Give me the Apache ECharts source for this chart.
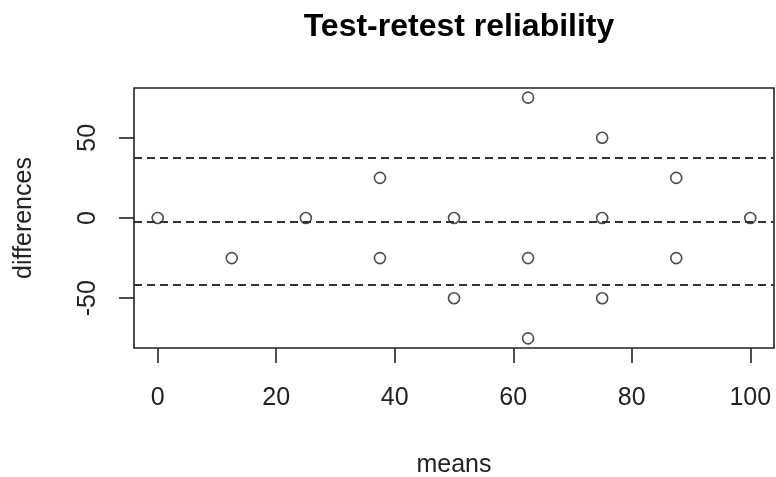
<!DOCTYPE html>
<html>
<head>
<meta charset="utf-8">
<script src="https://cdn.jsdelivr.net/npm/echarts@6/dist/echarts.min.js"></script>
<style>html,body{margin:0;padding:0;background:#fff}#c{width:776px;height:477px}</style>
</head>
<body>
<div id="c"></div>
<script>
var means = [0, 12.5, 25, 37.5, 37.5, 50, 50, 62.5, 62.5, 62.5, 75, 75, 75, 87.5, 87.5, 100];
var diffs = [0, -25, 0, 25, -25, 0, -50, 75, -25, -75, 50, 0, -50, 25, -25, 0];
var limitLines = [37.5, -2.1, -41.7];
var xTicks = [0, 20, 40, 60, 80, 100];
var yTicks = [-50, 0, 50];

var points = means.map(function (m, i) { return [m, diffs[i]]; });
var font = 'Liberation Sans, Arial, sans-serif';

var chart = echarts.init(document.getElementById('c'), null, {renderer: 'canvas'});
chart.setOption({
  animation: false,
  backgroundColor: '#fff',
  title: {
    text: 'Test-retest reliability',
    left: 454,
    top: 6,
    textAlign: 'center',
    textStyle: {fontFamily: font, fontSize: 32, fontWeight: 'bold', color: '#000'}
  },
  grid: {
    left: 134, top: 88, width: 640, height: 260,
    containLabel: false, outerBoundsMode: 'none',
    show: true, borderColor: '#222', borderWidth: 1.6, backgroundColor: 'transparent'
  },
  xAxis: {
    type: 'value', min: -4, max: 104, position: 'bottom',
    name: 'means', nameLocation: 'middle', nameGap: 105,
    nameTextStyle: {fontFamily: font, fontSize: 25, color: '#222'},
    axisLine: {show: false, onZero: false},
    splitLine: {show: false},
    axisTick: {show: true, inside: false, length: 15, customValues: xTicks, lineStyle: {color: '#222', width: 1.6}},
    axisLabel: {show: true, margin: 38, customValues: xTicks, fontFamily: font, fontSize: 25, color: '#222'}
  },
  yAxis: {
    type: 'value', min: -81, max: 81, position: 'left',
    name: 'differences', nameLocation: 'middle', nameGap: 97,
    nameTextStyle: {fontFamily: font, fontSize: 25, color: '#222'},
    axisLine: {show: false, onZero: false},
    splitLine: {show: false},
    axisTick: {show: true, inside: false, length: 15, customValues: yTicks, lineStyle: {color: '#222', width: 1.6}},
    axisLabel: {show: true, margin: 33, rotate: 90, customValues: yTicks, fontFamily: font, fontSize: 25, color: '#222'}
  },
  series: [{
    type: 'scatter',
    data: points,
    symbol: 'circle',
    symbolSize: 11,
    itemStyle: {color: 'rgba(0,0,0,0)', borderColor: '#222', borderWidth: 1.6},
    markLine: {
      silent: true,
      symbol: 'none',
      label: {show: false},
      lineStyle: {color: '#333', width: 1.8, type: [8, 5]},
      data: limitLines.map(function (v) { return {yAxis: v}; })
    }
  }]
});
</script>
</body>
</html>
